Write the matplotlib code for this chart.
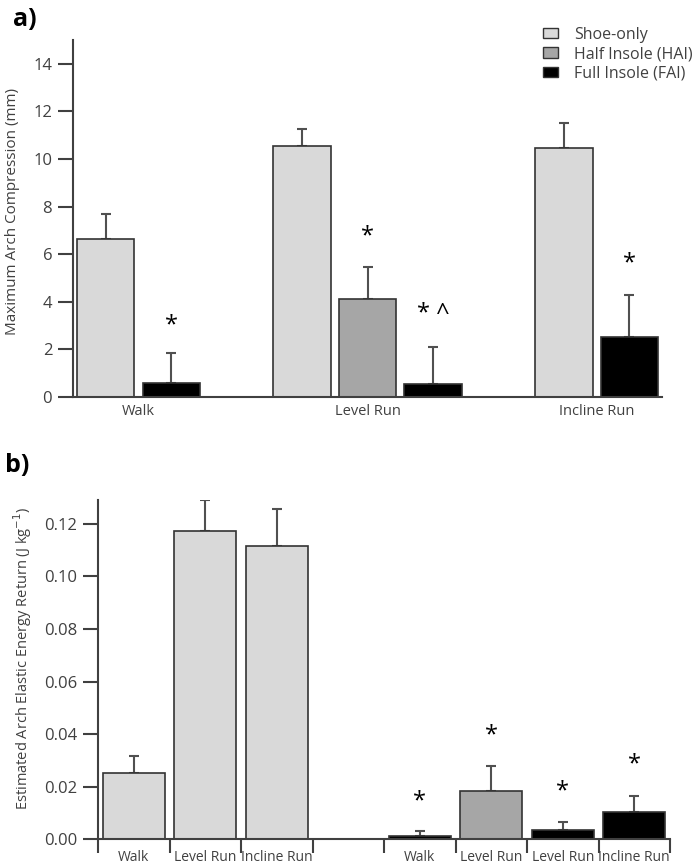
import matplotlib
matplotlib.use("Agg")
import matplotlib.pyplot as plt
from matplotlib.patches import Patch

plt.rcParams['font.family'] = ['Open Sans', 'DejaVu Sans']

# Panel a) maximum arch compression (mm)
conditions_a = ["Walk", "Level Run", "Incline Run"]
shoe_a = [6.62, 10.55, 10.45]
shoe_a_err = [1.05, 0.72, 1.08]
hai_a = [None, 4.1, None]
hai_a_err = [None, 1.38, None]
fai_a = [0.6, 0.56, 2.52]
fai_a_err = [1.25, 1.55, 1.78]
# significance marks above bars (condition index, group, text, height)
marks_a = [(0, "fai", "*", 3.0), (1, "hai", "*", 6.75), (1, "fai", "* ^", 3.5), (2, "fai", "*", 5.6)]

# Panel b) estimated arch elastic energy return (J/kg)
labels_b = ["Walk", "Level Run", "Incline Run", "", "Walk", "Level Run", "Level Run", "Incline Run"]
groups_b = ["shoe", "shoe", "shoe", None, "fai", "hai", "fai", "fai"]
values_b = [0.0253, 0.1174, 0.1114, None, 0.0013, 0.0182, 0.0034, 0.0105]
errors_b = [0.0065, 0.0116, 0.0141, None, 0.0019, 0.0096, 0.0031, 0.0059]
marks_b = [(4, "*", 0.0143), (5, "*", 0.0396), (6, "*", 0.0181), (7, "*", 0.0286)]

colors = {"shoe": "#d9d9d9", "hai": "#a6a6a6", "fai": "#000000"}
names = {"shoe": "Shoe-only", "hai": "Half Insole (HAI)", "fai": "Full Insole (FAI)"}
edge = "#333333"
axcol = "#404040"
txtcol = "#404040"
errcol = "#505050"

fig = plt.figure(figsize=(6.97, 8.67), dpi=100)

# ---------- panel a ----------
ax1 = fig.add_axes([0.1047, 0.5421, 0.8453, 0.4118])
w = 0.875
slot = 0
centers = []
for i, cond in enumerate(conditions_a):
    series = [("shoe", shoe_a[i], shoe_a_err[i]), ("hai", hai_a[i], hai_a_err[i]), ("fai", fai_a[i], fai_a_err[i])]
    used = []
    for g, v, e in series:
        if v is None:
            continue
        ax1.bar(slot, v, width=w, color=colors[g], edgecolor=edge, linewidth=1.2, zorder=2)
        ax1.errorbar(slot, v, yerr=[[0], [e]], fmt='none', ecolor=errcol, elinewidth=1.5,
                     capsize=3.5, capthick=1.5, zorder=1)
        for (ci, mg, txt, h) in marks_a:
            if ci == i and mg == g:
                ax1.text(slot, h, txt, ha='center', va='center', fontsize=17, color='black')
        used.append(slot)
        slot += 1
    centers.append(sum(used) / len(used))
    slot += 1

ax1.set_xlim(-0.5, 8.5)
ax1.set_ylim(0, 15)
ax1.set_yticks(range(0, 15, 2))
ax1.set_xticks(centers)
ax1.set_xticklabels(conditions_a)
ax1.tick_params(axis='x', length=0, pad=5, labelsize=10.5, labelcolor=txtcol)
ax1.tick_params(axis='y', length=11, width=1.5, color=axcol, labelsize=12, labelcolor=txtcol, pad=4)
for s in ['top', 'right']:
    ax1.spines[s].set_visible(False)
for s in ['left', 'bottom']:
    ax1.spines[s].set_color(axcol)
    ax1.spines[s].set_linewidth(1.5)
ax1.set_ylabel("Maximum Arch Compression (mm)", fontsize=11, color=txtcol, labelpad=3)
ax1.yaxis.set_label_coords(-0.09, 0.52)

handles = [Patch(facecolor=colors[g], edgecolor=edge, linewidth=1.0, label=names[g]) for g in ["shoe", "hai", "fai"]]
fig.legend(handles=handles, loc='upper left', bbox_to_anchor=(543 / 697, 1 - 27 / 867), frameon=False,
           fontsize=11.5, labelcolor=txtcol, handlelength=0.95, handleheight=0.6,
           handletextpad=1.0, labelspacing=0.2, borderpad=0, borderaxespad=0)

fig.text(0.018, 0.978, "a)", fontsize=18, fontweight='bold', va='center')

# ---------- panel b ----------
ax2 = fig.add_axes([0.1406, 0.0319, 0.8207, 0.3914])
wb = 0.87
for i, (g, v, e) in enumerate(zip(groups_b, values_b, errors_b)):
    if v is None:
        continue
    x = i + 0.5
    ax2.bar(x, v, width=wb, color=colors[g], edgecolor=edge, linewidth=1.2, zorder=2)
    ax2.errorbar(x, v, yerr=[[0], [e]], fmt='none', ecolor=errcol, elinewidth=1.5,
                 capsize=3.5, capthick=1.5, zorder=1)
for i, txt, h in marks_b:
    ax2.text(i + 0.5, h, txt, ha='center', va='center', fontsize=17, color='black')

ax2.set_xlim(0, 8)
ax2.set_ylim(0, 0.129)
ax2.set_yticks([0, 0.02, 0.04, 0.06, 0.08, 0.10, 0.12])
ax2.set_yticklabels(["0.00", "0.02", "0.04", "0.06", "0.08", "0.10", "0.12"])
ax2.set_xticks(range(9))
ax2.set_xticklabels([])
ax2.set_xticks([i + 0.5 for i in range(8)], minor=True)
ax2.set_xticklabels(labels_b, minor=True)
ax2.tick_params(axis='x', which='major', length=10, width=1.5, color=axcol)
ax2.tick_params(axis='x', which='minor', length=0, pad=8, labelsize=10, labelcolor=txtcol)
ax2.tick_params(axis='y', length=11, width=1.5, color=axcol, labelsize=12, labelcolor=txtcol, pad=4)
for s in ['top', 'right']:
    ax2.spines[s].set_visible(False)
for s in ['left', 'bottom']:
    ax2.spines[s].set_color(axcol)
    ax2.spines[s].set_linewidth(1.5)
ax2.set_ylabel("Estimated Arch Elastic Energy Return (J kg$^{-1}$)", fontsize=10.5, color=txtcol)
ax2.yaxis.set_label_coords(-0.112, 0.534)

fig.text(0.007, 0.463, "b)", fontsize=18, fontweight='bold', va='center')

fig.savefig("out.png", dpi=100)
